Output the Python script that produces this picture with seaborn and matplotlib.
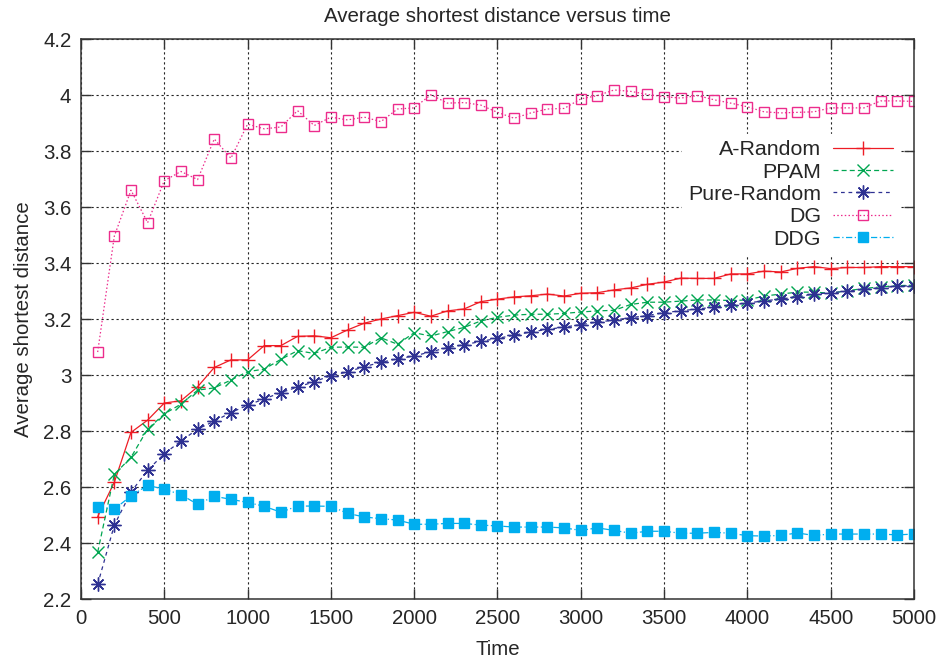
from matplotlib import pyplot as plt
import numpy as np
import pandas as pd
import seaborn as sns

time = list(range(100, 5001, 100))

a_random = [2.494, 2.617, 2.795, 2.839, 2.900, 2.908, 2.958, 3.027, 3.054, 3.054,
            3.105, 3.105, 3.138, 3.140, 3.133, 3.161, 3.185, 3.200, 3.212, 3.224,
            3.210, 3.229, 3.236, 3.262, 3.271, 3.279, 3.283, 3.289, 3.282, 3.292,
            3.294, 3.304, 3.311, 3.324, 3.332, 3.346, 3.345, 3.345, 3.361, 3.361,
            3.371, 3.368, 3.381, 3.387, 3.380, 3.384, 3.384, 3.387, 3.387, 3.387]
ppam = [2.367, 2.645, 2.706, 2.807, 2.861, 2.896, 2.946, 2.954, 2.982, 3.012,
        3.021, 3.056, 3.087, 3.077, 3.099, 3.100, 3.099, 3.133, 3.110, 3.151,
        3.139, 3.155, 3.170, 3.193, 3.206, 3.214, 3.217, 3.217, 3.220, 3.225,
        3.229, 3.231, 3.252, 3.260, 3.260, 3.264, 3.268, 3.268, 3.266, 3.268,
        3.282, 3.289, 3.296, 3.296, 3.292, 3.301, 3.309, 3.315, 3.319, 3.321]
pure_random = [2.252, 2.464, 2.582, 2.660, 2.719, 2.764, 2.807, 2.835, 2.866, 2.892,
               2.915, 2.937, 2.957, 2.976, 2.998, 3.011, 3.030, 3.045, 3.058, 3.068,
               3.083, 3.098, 3.108, 3.120, 3.131, 3.142, 3.154, 3.163, 3.171, 3.180,
               3.189, 3.196, 3.205, 3.212, 3.223, 3.229, 3.236, 3.242, 3.250, 3.257,
               3.265, 3.271, 3.280, 3.289, 3.294, 3.299, 3.306, 3.312, 3.317, 3.319]
dg = [3.082, 3.496, 3.660, 3.544, 3.694, 3.727, 3.698, 3.843, 3.774, 3.896,
      3.879, 3.886, 3.944, 3.891, 3.921, 3.911, 3.921, 3.905, 3.950, 3.954,
      4.001, 3.971, 3.973, 3.964, 3.938, 3.917, 3.936, 3.950, 3.952, 3.986,
      3.998, 4.018, 4.013, 4.002, 3.994, 3.989, 3.998, 3.983, 3.971, 3.958,
      3.940, 3.936, 3.938, 3.940, 3.954, 3.954, 3.954, 3.979, 3.979, 3.977]
ddg = [2.529, 2.521, 2.568, 2.606, 2.592, 2.573, 2.538, 2.567, 2.556, 2.545,
       2.531, 2.510, 2.532, 2.532, 2.531, 2.506, 2.493, 2.487, 2.482, 2.467,
       2.467, 2.470, 2.470, 2.464, 2.461, 2.457, 2.457, 2.457, 2.454, 2.445,
       2.454, 2.445, 2.435, 2.442, 2.442, 2.435, 2.435, 2.438, 2.435, 2.426,
       2.425, 2.427, 2.436, 2.427, 2.432, 2.432, 2.432, 2.432, 2.429, 2.432]

series = {
    'A-Random': a_random,
    'PPAM': ppam,
    'Pure-Random': pure_random,
    'DG': dg,
    'DDG': ddg,
}

# line style per series: color, linestyle, marker, marker size, filled
styles = {
    'A-Random': dict(color='#ee1c25', linestyle='-', marker='+', ms=10, mfc='none'),
    'PPAM': dict(color='#00a651', linestyle=(0, (4, 2.5)), marker='x', ms=8, mfc='none'),
    'Pure-Random': dict(color='#2e3192', linestyle=(0, (3, 3)), marker=(8, 2, 0), ms=10, mfc='none'),
    'DG': dict(color='#ec2c8c', linestyle=(0, (1.2, 1.8)), marker='s', ms=7, mfc='none'),
    'DDG': dict(color='#00aeef', linestyle=(0, (5, 2, 1, 2)), marker='s', ms=7, mfc='#00aeef'),
}

sns.set_theme(style='ticks')
plt.rcParams['font.family'] = ['Liberation Sans', 'DejaVu Sans']

fig = plt.figure(figsize=(9.43, 6.6), dpi=100)
ax = fig.add_axes([0.0859, 0.0924, 0.8833, 0.8485])

for name, values in series.items():
    df = pd.DataFrame({'Time': time, 'value': values})
    st = styles[name]
    sns.lineplot(df, x='Time', y='value', ax=ax, label=name,
                 color=st['color'], linestyle=st['linestyle'],
                 marker=st['marker'], markersize=st['ms'],
                 mfc=st['mfc'], mec=st['color'], mew=1.0, lw=0.9,
                 legend=False)

ax.set_xlim(0, 5000)
ax.set_ylim(2.2, 4.2)
ax.set_xticks(np.arange(0, 5001, 500))
ax.set_yticks(np.round(np.arange(2.2, 4.21, 0.2), 1))
ax.set_yticklabels(['2.2', '2.4', '2.6', '2.8', '3', '3.2', '3.4', '3.6', '3.8', '4', '4.2'])
ax.grid(True, color='#222222', linestyle=(0, (2, 2.5)), lw=0.8)
ax.tick_params(direction='in', top=True, right=True, length=7, width=1,
               labelsize=14.7, color='#333333', pad=7)
for sp in ax.spines.values():
    sp.set_color('#333333')
    sp.set_linewidth(1.1)

ax.set_title('Average shortest distance versus time', fontsize=14.8, pad=12)
ax.set_xlabel('Time', fontsize=14.7, labelpad=9)
ax.set_ylabel('Average shortest distance', fontsize=14.7, labelpad=7)

handles, labels = ax.get_legend_handles_labels()
leg = ax.legend(handles, labels, loc='upper right', bbox_to_anchor=(0.995, 0.85),
                markerfirst=False, handlelength=2.8, handletextpad=0.55,
                labelspacing=0.16, fontsize=15.4, frameon=True, fancybox=False,
                framealpha=1, borderpad=0.3)
leg.get_frame().set_edgecolor('white')
leg.get_frame().set_facecolor('white')

plt.savefig('out.png', dpi=100)
plt.close()
